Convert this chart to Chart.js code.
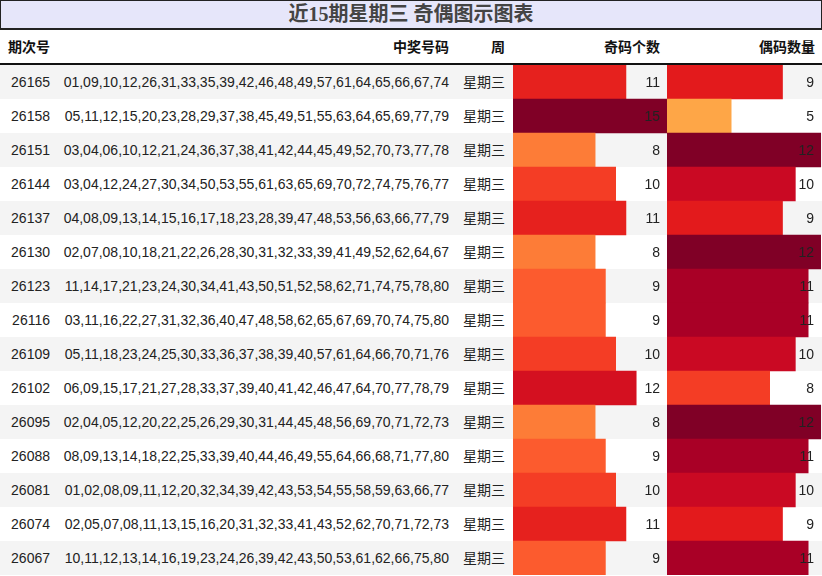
<!DOCTYPE html>
<html>
<head>
<meta charset="utf-8">
<script src="https://cdn.jsdelivr.net/npm/chart.js@4"></script>
<style>
  html, body { margin: 0; padding: 0; background: #fff; }
  body { width: 822px; height: 576px; position: relative; overflow: hidden;
         font-family: "Liberation Sans", "Noto Sans CJK SC", sans-serif; color: #222; }
  #title { position: absolute; left: 0; top: 0; width: 820px; height: 27px;
           border: 1px solid #222; border-bottom-width: 2px; background: #e6e6fa;
           text-align: center; line-height: 27px; font-size: 20px; font-weight: bold; color: #444;
           font-family: "Liberation Serif", "Noto Sans CJK SC", serif; }
  .hd { position: absolute; top: 30px; height: 34px; line-height: 34px; font-size: 14px; font-weight: bold; color: #111; }
  #line { position: absolute; left: 0; top: 63px; width: 822px; height: 2px; background: #111; }
  .row { position: absolute; left: 0; width: 822px; height: 34px; }
  .cell { position: absolute; top: 0; height: 34px; line-height: 34px; font-size: 14px; text-align: right; white-space: nowrap; }
  canvas { position: absolute; top: 65px; }
</style>
</head>
<body>
<div id="title">近15期星期三 奇偶图示图表</div>
<div class="hd" style="left:8px">期次号</div>
<div class="hd" style="right:373px">中奖号码</div>
<div class="hd" style="right:317px">周</div>
<div class="hd" style="right:162px">奇码个数</div>
<div class="hd" style="right:7px">偶码数量</div>
<div id="line"></div>
<div id="rows"></div>
<canvas id="oddChart" width="154" height="510" style="left:513px"></canvas>
<canvas id="evenChart" width="154" height="510" style="left:667px"></canvas>
<script>
var periods = ['26165', '26158', '26151', '26144', '26137', '26130', '26123', '26116',
               '26109', '26102', '26095', '26088', '26081', '26074', '26067'];
var drawNumbers = [
    '01,09,10,12,26,31,33,35,39,42,46,48,49,57,61,64,65,66,67,74',
    '05,11,12,15,20,23,28,29,37,38,45,49,51,55,63,64,65,69,77,79',
    '03,04,06,10,12,21,24,36,37,38,41,42,44,45,49,52,70,73,77,78',
    '03,04,12,24,27,30,34,50,53,55,61,63,65,69,70,72,74,75,76,77',
    '04,08,09,13,14,15,16,17,18,23,28,39,47,48,53,56,63,66,77,79',
    '02,07,08,10,18,21,22,26,28,30,31,32,33,39,41,49,52,62,64,67',
    '11,14,17,21,23,24,30,34,41,43,50,51,52,58,62,71,74,75,78,80',
    '03,11,16,22,27,31,32,36,40,47,48,58,62,65,67,69,70,74,75,80',
    '05,11,18,23,24,25,30,33,36,37,38,39,40,57,61,64,66,70,71,76',
    '06,09,15,17,21,27,28,33,37,39,40,41,42,46,47,64,70,77,78,79',
    '02,04,05,12,20,22,25,26,29,30,31,44,45,48,56,69,70,71,72,73',
    '08,09,13,14,18,22,25,33,39,40,44,46,49,55,64,66,68,71,77,80',
    '01,02,08,09,11,12,20,32,34,39,42,43,53,54,55,58,59,63,66,77',
    '02,05,07,08,11,13,15,16,20,31,32,33,41,43,52,62,70,71,72,73',
    '10,11,12,13,14,16,19,23,24,26,39,42,43,50,53,61,62,66,75,80'
];
var weekdays = ['星期三', '星期三', '星期三', '星期三', '星期三', '星期三', '星期三', '星期三',
                '星期三', '星期三', '星期三', '星期三', '星期三', '星期三', '星期三'];
var oddCounts = [11, 15, 8, 10, 11, 8, 9, 9, 10, 12, 8, 9, 10, 11, 9];
var evenCounts = [9, 5, 12, 10, 9, 12, 11, 11, 10, 8, 12, 11, 10, 9, 11];

// table rows (text + stripes)
var rowsEl = document.getElementById('rows');
periods.forEach(function (p, i) {
    var r = document.createElement('div');
    r.className = 'row';
    r.style.top = (65 + i * 34) + 'px';
    r.style.background = i % 2 === 0 ? '#f4f4f4' : '#fff';
    r.innerHTML =
        '<div class="cell" style="right:772px">' + p + '</div>' +
        '<div class="cell" style="right:373px">' + drawNumbers[i] + '</div>' +
        '<div class="cell" style="right:317px">' + weekdays[i] + '</div>';
    rowsEl.appendChild(r);
});

// YlOrRd colour ramp
var ramp = ['#ffffcc', '#ffeda0', '#fed976', '#feb24c', '#fd8d3c', '#fc4e2a', '#e31a1c', '#bd0026', '#800026'];
function hex(c) { return [1, 3, 5].map(function (k) { return parseInt(c.substr(k, 2), 16); }); }
function ylOrRd(t) {
    t = Math.max(0, Math.min(1, t));
    var pos = t * (ramp.length - 1), k = Math.min(Math.floor(pos), ramp.length - 2), f = pos - k;
    var a = hex(ramp[k]), b = hex(ramp[k + 1]);
    return 'rgb(' + a.map(function (v, j) { return Math.round(v + (b[j] - v) * f); }).join(',') + ')';
}

var valueLabels = {
    id: 'valueLabels',
    afterDatasetsDraw: function (chart) {
        var ctx = chart.ctx;
        ctx.save();
        ctx.font = '14px "Liberation Sans", sans-serif';
        ctx.fillStyle = '#222';
        ctx.textAlign = 'right';
        ctx.textBaseline = 'middle';
        chart.getDatasetMeta(0).data.forEach(function (bar, i) {
            ctx.fillText(chart.data.datasets[0].data[i], chart.chartArea.right - 7, bar.y + 1);
        });
        ctx.restore();
    }
};

function barChart(id, values) {
    var max = Math.max.apply(null, values);
    new Chart(document.getElementById(id), {
        type: 'bar',
        data: {
            labels: periods,
            datasets: [{
                data: values,
                backgroundColor: values.map(function (v) { return ylOrRd(v / max); }),
                borderWidth: 0,
                barPercentage: 1,
                categoryPercentage: 1
            }]
        },
        options: {
            indexAxis: 'y',
            responsive: false,
            animation: false,
            layout: { padding: 0 },
            plugins: { legend: { display: false }, tooltip: { enabled: false } },
            scales: {
                x: { display: false, min: 0, max: max },
                y: { display: false }
            }
        },
        plugins: [valueLabels]
    });
}

barChart('oddChart', oddCounts);
barChart('evenChart', evenCounts);
</script>
</body>
</html>
